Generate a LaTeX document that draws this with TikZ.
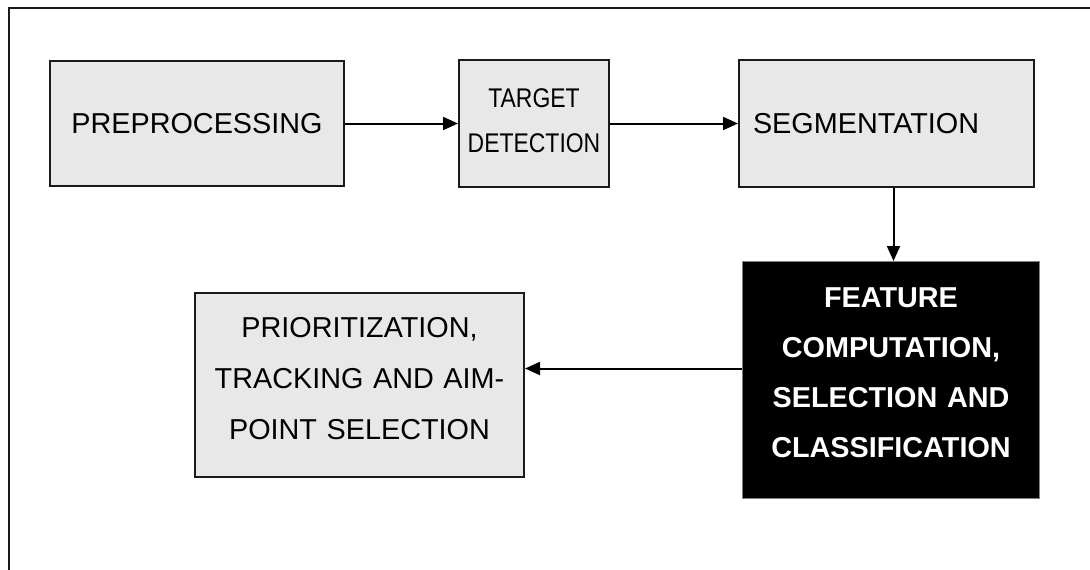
\documentclass[tikz,border=0pt]{standalone}
\usepackage{fontspec}
\setmainfont{Liberation Sans}
\newfontfamily\narrowfont[FakeStretch=0.85]{Liberation Sans}
\usetikzlibrary{arrows.meta}
\definecolor{boxgray}{HTML}{E8E8E8}
\definecolor{edgegray}{HTML}{1A1A1A}
\tikzset{
  procbox/.style={draw=edgegray, line width=2pt, fill=boxgray, anchor=north west, inner sep=0pt,
    font=\fontsize{28.8}{51}\selectfont, align=center},
  darkbox/.style={draw=gray, line width=1pt, fill=black, text=white, anchor=north west, inner sep=0pt,
    font=\fontsize{28.8}{50}\selectfont\bfseries, align=center},
  flow/.style={line width=2pt, draw=black, -{Triangle[length=15pt,width=13pt]}},
  frame/.style={line width=2pt, draw=edgegray}
}
\begin{document}
\begin{tikzpicture}[x=1pt,y=-1pt]
\useasboundingbox (0,0) rectangle (1090,570);
\coordinate (ftl) at (9,8);
\coordinate (ftr) at (1095,8);
\coordinate (fbl) at (9,575);
\draw[frame] (ftr) -- (ftl) -- (fbl);

\node[procbox, minimum width=294pt, minimum height=125pt, text width=294pt] (pre) at (49,60) {PREPROCESSING};
\node[procbox, minimum width=150pt, minimum height=127pt, text width=150pt,
      font=\narrowfont\fontsize{27}{45}\selectfont] (tgt) at (458,59) {TARGET\\DETECTION\rule[-6pt]{0pt}{0pt}};
\node[procbox, minimum width=295pt, minimum height=127pt, text width=267pt, align=left, inner xsep=14pt] (seg) at (738,59) {SEGMENTATION};
\node[darkbox, minimum width=297pt, minimum height=237pt, text width=297pt] (feat) at (742,261) {FEATURE\\COMPUTATION,\\SELECTION AND\\CLASSIFICATION\rule[-14pt]{0pt}{0pt}};
\node[procbox, minimum width=329pt, minimum height=184pt, text width=329pt] (pri) at (194,292) {PRIORITIZATION,\\TRACKING AND AIM-\\POINT SELECTION\rule[-14pt]{0pt}{0pt}};

\draw[flow] (pre.east) -- (tgt.west);
\draw[flow] (tgt.east) -- (seg.west);
\draw[flow] ([xshift=2.5pt]feat.north |- seg.south) -- ([xshift=2.5pt]feat.north);
\draw[flow] ([yshift=11.5pt]feat.west) -- ([yshift=11.5pt]feat.west -| pri.east);
\end{tikzpicture}
\end{document}
